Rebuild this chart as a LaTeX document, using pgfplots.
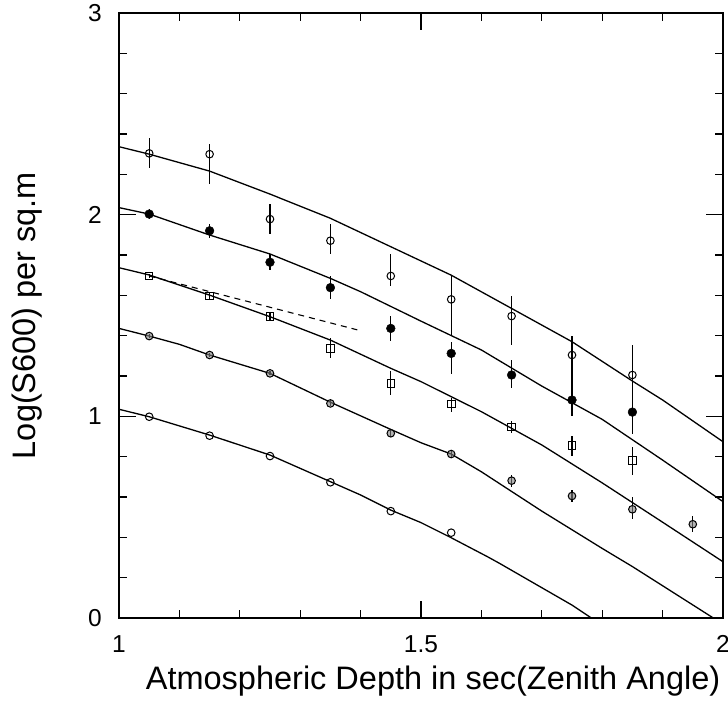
\documentclass[border=0pt]{standalone}
\usepackage{fontspec}
\setmainfont{Liberation Sans}
\usepackage{pgfplots}
\pgfplotsset{compat=1.18}
\begin{document}
\begin{tikzpicture}
\useasboundingbox (-119bp,-97bp) rectangle (609bp,618bp);
\begin{axis}[
 width=604bp,height=605bp,scale only axis,
 xmin=1,xmax=2,ymin=0,ymax=3,
 xtick={1,1.5,2}, xticklabels={1,1.5,2},
 ytick={0,1,2,3}, yticklabels={0,1,2,3},
 minor xtick={1.1,1.2,1.3,1.4,1.6,1.7,1.8,1.9},
 minor ytick={0.2,0.4,0.6,0.8,1.2,1.4,1.6,1.8,2.2,2.4,2.6,2.8},
 tick align=inside,
 major tick length=17bp, minor tick length=8bp,
 every tick/.style={black, line width=1.1bp},
 axis line style={line width=2bp},
 xticklabel style={font=\fontsize{24.5bp}{28bp}\selectfont, anchor=north, inner sep=0pt, yshift=-17bp},
 yticklabel style={font=\fontsize{24.5bp}{28bp}\selectfont, anchor=east, inner sep=0pt, xshift=-17bp},
 xlabel={Atmospheric Depth in sec(Zenith Angle)},
 ylabel={Log(S600) per sq.m},
 label style={font=\fontsize{32.5bp}{38bp}\selectfont},
 xlabel style={at={(axis description cs:0.52,-0.119)}, anchor=base},
 ylabel style={at={(axis description cs:-0.139,0.5)}, anchor=base},
 error bars/error bar style={line width=1.2bp},
]
% theory curves
\addplot[black, line width=1.3bp, no markers] coordinates {(1.0,2.337) (1.05,2.30) (1.15,2.216) (1.25,2.102) (1.35,1.982) (1.45,1.841) (1.55,1.70) (1.65,1.535) (1.75,1.370) (1.85,1.175) (1.90,1.081) (2.0,0.874)};
\addplot[black, line width=1.3bp, no markers] coordinates {(1.0,2.035) (1.05,2.003) (1.15,1.899) (1.25,1.805) (1.35,1.684) (1.40,1.618) (1.50,1.472) (1.60,1.329) (1.70,1.150) (1.80,0.985) (1.90,0.783) (2.0,0.577)};
\addplot[black, line width=1.3bp, no markers] coordinates {(1.0,1.737) (1.05,1.701) (1.15,1.601) (1.25,1.494) (1.35,1.378) (1.45,1.238) (1.50,1.172) (1.60,1.023) (1.70,0.858) (1.80,0.67) (1.90,0.475) (2.0,0.279)};
\addplot[black, line width=1.3bp, no markers] coordinates {(1.0,1.436) (1.05,1.398) (1.10,1.357) (1.15,1.304) (1.25,1.213) (1.35,1.07) (1.45,0.935) (1.50,0.869) (1.55,0.813) (1.60,0.725) (1.70,0.53) (1.80,0.345) (1.85,0.255) (1.90,0.16) (1.984,0)};
\addplot[black, line width=1.3bp, no markers] coordinates {(1.0,1.035) (1.05,0.998) (1.15,0.907) (1.25,0.808) (1.35,0.676) (1.40,0.610) (1.45,0.535) (1.50,0.473) (1.55,0.398) (1.61,0.304) (1.63,0.271) (1.75,0.064) (1.782,0)};
% dashed
\addplot[black, line width=1.1bp, dash pattern=on 6bp off 5bp, no markers] coordinates {(1.05,1.696) (1.402,1.423)};
% data: open circles top
\addplot[black, only marks, mark=o, mark size=3.8bp, mark options={line width=1bp},
 error bars/.cd, y dir=both, y explicit, error mark=none]
 table[x=x,y=y,y error plus=ep,y error minus=em] {
x y ep em
1.05 2.304 0.074 0.074
1.15 2.300 0.050 0.150
1.25 1.978 0.074 0.072
1.35 1.871 0.083 0.066
1.45 1.696 0.109 0.050
1.55 1.580 0.120 0.180
1.65 1.497 0.099 0.144
1.75 1.304 0.094 0.150
1.85 1.205 0.150 0.100
};
% filled circles
\addplot[black, only marks, mark=*, mark size=4.4bp,
 error bars/.cd, y dir=both, y explicit, error mark=none]
 table[x=x,y=y,y error plus=ep,y error minus=em] {
x y ep em
1.05 2.003 0.025 0.025
1.15 1.920 0.035 0.035
1.25 1.764 0.040 0.040
1.35 1.638 0.057 0.057
1.45 1.436 0.060 0.060
1.55 1.312 0.058 0.104
1.65 1.205 0.074 0.064
1.75 1.081 0.085 0.080
1.85 1.021 0.120 0.110
};
% squares
\addplot[black, only marks, mark=square, mark size=3.8bp, mark options={line width=1bp},
 error bars/.cd, y dir=both, y explicit, error mark=none]
 table[x=x,y=y,y error plus=ep,y error minus=em] {
x y ep em
1.05 1.696 0.010 0.010
1.15 1.596 0.015 0.015
1.25 1.494 0.020 0.020
1.35 1.337 0.050 0.050
1.45 1.164 0.060 0.060
1.55 1.062 0.030 0.040
1.65 0.948 0.030 0.030
1.75 0.854 0.050 0.050
1.85 0.780 0.070 0.070
};
% grey circles
\addplot[black, only marks, mark=*, mark size=3.8bp, mark options={line width=1bp, fill=gray, fill opacity=0.6, draw=black},
 error bars/.cd, y dir=both, y explicit, error mark=none]
 table[x=x,y=y,y error plus=ep,y error minus=em] {
x y ep em
1.05 1.398 0.010 0.010
1.15 1.304 0.010 0.010
1.25 1.213 0.010 0.010
1.35 1.064 0.015 0.015
1.45 0.916 0.020 0.020
1.55 0.813 0.020 0.020
1.65 0.681 0.030 0.030
1.75 0.605 0.030 0.030
1.85 0.539 0.060 0.050
1.95 0.465 0.040 0.040
};
% open circles bottom
\addplot[black, only marks, mark=o, mark size=3.8bp, mark options={line width=1bp}]
 table[x=x,y=y] {
x y
1.05 0.998
1.15 0.904
1.25 0.803
1.35 0.673
1.45 0.530
1.55 0.423
};
\end{axis}
\end{tikzpicture}
\end{document}
